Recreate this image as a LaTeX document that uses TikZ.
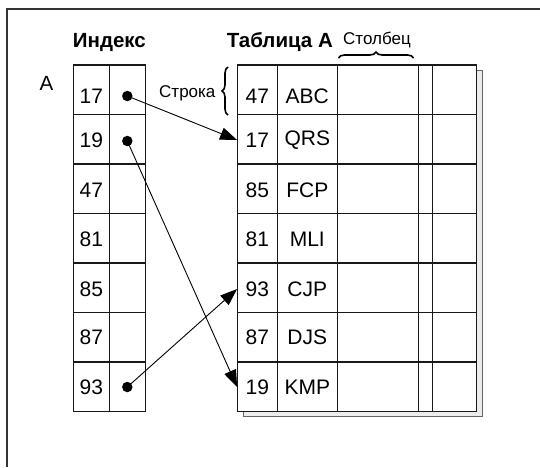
\documentclass[tikz,border=0pt]{standalone}
\usepackage{fontspec}
\setmainfont{Liberation Sans}
\usetikzlibrary{arrows.meta,decorations.pathreplacing}
\begin{document}
\begin{tikzpicture}[x=1pt,y=-1pt,
 grid/.style={line width=1.1pt, black!90},
 cell/.style={inner sep=0pt, minimum width=40pt, minimum height=20pt, font=\fontsize{21}{21}\selectfont},
 ptr/.style={circle, fill=black, inner sep=0pt, minimum size=10.5pt},
 link/.style={line width=0.9pt, -{Triangle[length=17pt,width=12.5pt]}},
 head/.style={font=\bfseries\fontsize{20.5}{20.5}\selectfont, anchor=base west, inner sep=0pt},
 note/.style={font=\fontsize{17}{17}\selectfont, anchor=base west, inner sep=0pt},
 brc/.style={decorate, decoration={brace, amplitude=6pt}, line width=1.6pt}]

\useasboundingbox (0,0) rectangle (540,467);
\fill[white] (0,0) rectangle (540,467);
\draw[line width=1.5pt, black!80] (7,467) -- (7,9) -- (540,9);

% shadow of the data table
\draw[gray!80!black, fill=gray!15, line width=1pt] (243.3,70.7) rectangle (482.7,416.7);

% data table grid
\draw[grid, fill=white] (237.3,65) rectangle (476.7,411.5);
\foreach \x in {277.3,337.3,418.3,432.3} \draw[grid] (\x,65) -- (\x,411.5);
\foreach \k in {1,...,6} \draw[grid] (237.3,65+49.5*\k) -- (476.7,65+49.5*\k);

% index grid
\draw[grid] (73.3,65) rectangle (145.3,411.5);
\draw[grid] (109.3,65) -- (109.3,411.5);
\foreach \k in {1,...,6} \draw[grid] (73.3,65+49.5*\k) -- (145.3,65+49.5*\k);

% index keys
\foreach \n/\v/\y in {1/17/96, 2/19/140, 3/47/190, 4/81/239.5, 5/85/289, 6/87/337.5, 7/93/387}
  \node[cell] (i\n) at (91.3,\y) {\v};

% data rows
\foreach \n/\v/\s/\y in {1/47/ABC/96, 2/17/QRS/140, 3/85/FCP/190, 4/81/MLI/239.5, 5/93/CJP/289, 6/87/DJS/337.5, 7/19/KMP/387}{
  \node[cell] (dn\n) at (257.3,\y) {\v};
  \node[cell, minimum width=60pt] (ds\n) at (307.3,\y) {\s};
}

% pointers
\node[ptr] (p1) at (127.3,96) {};
\node[ptr] (p2) at (127.3,141) {};
\node[ptr] (p7) at (127.3,387) {};

\draw[link] (p1.center) -- (dn2.west);
\draw[link] (p2.center) -- (dn7.west);
\draw[link] (p7.center) -- (dn5.west);

% headings and labels
\node[head] (hidx) at (72.7,47.3) {Индекс};
\node[head] (htab) at (226.7,47.3) {Таблица A};
\node[note] (hcol) at (343,44) {Столбец};
\node[note] (hrow) at (159,97.3) {Строка};
\node[font=\fontsize{20.5}{20.5}\selectfont, anchor=base west, inner sep=0pt] (lblA) at (39.3,90.7) {A};

\draw[brc] (338.5,58) -- (413.5,58);
\draw[brc] (228,115) -- (228,67);
\end{tikzpicture}
\end{document}
